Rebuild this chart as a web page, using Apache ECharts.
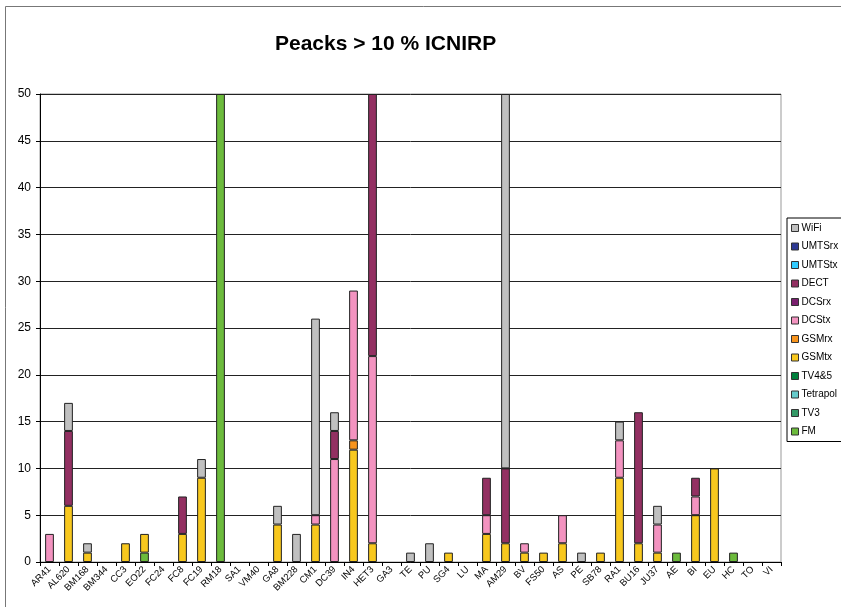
<!DOCTYPE html>
<html>
<head>
<meta charset="utf-8">
<script src="https://cdn.jsdelivr.net/npm/echarts@6/dist/echarts.min.js"></script>
<style>
  html, body { margin: 0; padding: 0; background: #fff; }
  #chart { width: 841px; height: 607px; }
</style>
</head>
<body>
<div id="chart"></div>
<script>
// categories along the x axis
var sites = ['AR41','AL620','BM168','BM344','CC3','EO22','FC24','FC8','FC19','RM18','SA1','VM40','GA8','BM228','CM1','DC39','IN4','HET3','GA3','TE','PU','SG4','LU','MA','AM29','BV','FS50','AS','PE','SB78','RA1','BU16','JU37','AE','BI','EU','HC','TO','VI'];

// one value per site, stacked bottom -> top in this order
var FM       = [0,0,0,0,0,1,0,0,0,50,0,0,0,0,0,0,0,0,0,0,0,0,0,0,0,0,0,0,0,0,0,0,0,1,0,0,1,0,0];
var TV3      = [0,0,0,0,0,0,0,0,0,0,0,0,0,0,0,0,0,0,0,0,0,0,0,0,0,0,0,0,0,0,0,0,0,0,0,0,0,0,0];
var Tetrapol = [0,0,0,0,0,0,0,0,0,0,0,0,0,0,0,0,0,0,0,0,0,0,0,0,0,0,0,0,0,0,0,0,0,0,0,0,0,0,0];
var TV45     = [0,0,0,0,0,0,0,0,0,0,0,0,0,0,0,0,0,0,0,0,0,0,0,0,0,0,0,0,0,0,0,0,0,0,0,0,0,0,0];
var GSMtx    = [0,6,1,0,2,2,0,3,9,0,0,0,4,0,4,0,12,2,0,0,0,1,0,3,2,1,1,2,0,1,9,2,1,0,5,10,0,0,0];
var GSMrx    = [0,0,0,0,0,0,0,0,0,0,0,0,0,0,0,0,1,0,0,0,0,0,0,0,0,0,0,0,0,0,0,0,0,0,0,0,0,0,0];
var DCStx    = [3,0,0,0,0,0,0,0,0,0,0,0,0,0,1,11,16,20,0,0,0,0,0,2,0,1,0,3,0,0,4,0,3,0,2,0,0,0,0];
var DCSrx    = [0,0,0,0,0,0,0,0,0,0,0,0,0,0,0,0,0,0,0,0,0,0,0,0,0,0,0,0,0,0,0,0,0,0,0,0,0,0,0];
var DECT     = [0,8,0,0,0,0,0,4,0,0,0,0,0,0,0,3,0,28,0,0,0,0,0,4,8,0,0,0,0,0,0,14,0,0,2,0,0,0,0];
var UMTStx   = [0,0,0,0,0,0,0,0,0,0,0,0,0,0,0,0,0,0,0,0,0,0,0,0,0,0,0,0,0,0,0,0,0,0,0,0,0,0,0];
var UMTSrx   = [0,0,0,0,0,0,0,0,0,0,0,0,0,0,0,0,0,0,0,0,0,0,0,0,0,0,0,0,0,0,0,0,0,0,0,0,0,0,0];
var WiFi     = [0,3,1,0,0,0,0,0,2,0,0,0,2,3,21,2,0,0,0,1,2,0,0,0,40,0,0,0,1,0,2,0,2,0,0,0,0,0,0];

var yTicks = [0,5,10,15,20,25,30,35,40,45,50];

var stackOrder = [
  ['FM', FM, '#6CBB3C'],
  ['TV3', TV3, '#339966'],
  ['Tetrapol', Tetrapol, '#66CCCC'],
  ['TV4&5', TV45, '#00803C'],
  ['GSMtx', GSMtx, '#F8C81E'],
  ['GSMrx', GSMrx, '#F7941D'],
  ['DCStx', DCStx, '#F393C0'],
  ['DCSrx', DCSrx, '#7A1F6E'],
  ['DECT', DECT, '#933062'],
  ['UMTStx', UMTStx, '#33CCFF'],
  ['UMTSrx', UMTSrx, '#2E3A94'],
  ['WiFi', WiFi, '#C0C0C0']
];
var legendOrder = ['WiFi','UMTSrx','UMTStx','DECT','DCSrx','DCStx','GSMrx','GSMtx','TV4&5','Tetrapol','TV3','FM'];

var series = stackOrder.map(function (s) {
  return {
    name: s[0],
    type: 'bar',
    stack: 'all',
    barWidth: '46%',
    data: s[1].map(function (v) { return v === 0 ? null : v; }),
    itemStyle: { color: s[2], borderColor: '#222', borderWidth: 1 },
    emphasis: { disabled: true }
  };
});

var myChart = echarts.init(document.getElementById('chart'));
myChart.setOption({
  animation: false,
  textStyle: { fontFamily: 'Liberation Sans, Arial, sans-serif', color: '#000' },
  graphic: [{
    type: 'rect',
    shape: { x: 5.5, y: 6.5, width: 900, height: 700 },
    style: { fill: null, stroke: '#777', lineWidth: 1 },
    silent: true
  }],
  title: {
    text: 'Peacks > 10 % ICNIRP',
    left: 270,
    top: 29,
    textStyle: { fontSize: 21, fontWeight: 'bold', color: '#000', fontFamily: 'Liberation Sans, Arial, sans-serif' }
  },
  legend: {
    data: legendOrder,
    orient: 'vertical',
    left: 787,
    top: 218,
    itemWidth: 7,
    itemHeight: 7,
    itemGap: 8.5,
    icon: 'rect',
    padding: [5, 20, 5, 4],
    borderColor: '#000',
    borderWidth: 1,
    itemStyle: { borderColor: '#333', borderWidth: 1 },
    textStyle: { fontSize: 10, color: '#000', padding: [0, 0, 0, -2] }
  },
  grid: {
    left: 40,
    right: 60,
    top: 94,
    bottom: 45,
    show: true,
    borderColor: '#999',
    borderWidth: 1
  },
  xAxis: {
    type: 'category',
    data: sites,
    axisLine: { lineStyle: { color: '#000' } },
    axisTick: { show: true, length: 4, lineStyle: { color: '#000' } },
    axisLabel: { interval: 0, rotate: 45, fontSize: 9.5, color: '#000', margin: 6 }
  },
  yAxis: {
    type: 'value',
    min: yTicks[0],
    max: yTicks[yTicks.length - 1],
    interval: 5,
    axisLine: { show: true, lineStyle: { color: '#000' } },
    axisTick: { show: true, length: 4, lineStyle: { color: '#000' } },
    axisLabel: { fontSize: 12, color: '#000', margin: 9 },
    splitLine: { lineStyle: { color: '#222', width: 1 } }
  },
  series: series
});
</script>
</body>
</html>
